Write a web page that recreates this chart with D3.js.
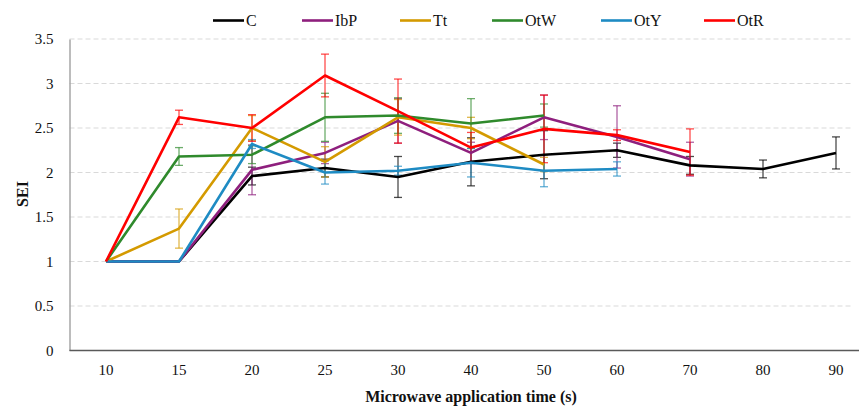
<!DOCTYPE html>
<html><head><meta charset="utf-8">
<script src="https://cdn.jsdelivr.net/npm/d3@7"></script>
<style>body{margin:0;background:#fff}svg{display:block}svg text{font-family:"Liberation Serif","Times New Roman","DejaVu Serif",serif}</style>
</head><body>
<svg id="c" width="859" height="407"></svg>
<script>
const categories = ["10","15","20","25","30","40","50","60","70","80","90"];
const yTicks = [0,0.5,1,1.5,2,2.5,3,3.5];
const seriesNames = ["C","IbP","Tt","OtW","OtY","OtR"];
const colors = ["#000000","#8e1f7d","#d49a00","#2f8a2c","#1e8bc3","#ff0000"];
const C_vals   = [1,1,1.96,2.05,1.95,2.12,2.20,2.25,2.08,2.04,2.22];
const C_err    = [0,0,0.10,0.10,0.23,0.27,0.27,0.08,0.10,0.10,0.18];
const IbP_vals = [1,1,2.03,2.22,2.58,2.22,2.62,2.40,2.15,null,null];
const IbP_err  = [0,0,0.28,0.12,0.25,0.12,0.25,0.35,0.19,null,null];
const Tt_vals  = [1,1.37,2.50,2.12,2.62,2.50,2.09];
const Tt_err   = [0,0.22,0.14,0.17,0.2,0.12,0.08];
const OtW_vals = [1,2.18,2.20,2.62,2.64,2.55,2.64];
const OtW_err  = [0,0.10,0.10,0.27,0.20,0.28,0.13];
const OtY_vals = [1,1,2.32,2.00,2.02,2.11,2.02,2.04];
const OtY_err  = [0,0,0.05,0.13,0.05,0.16,0.18,0.08];
const OtR_vals = [1,2.62,2.50,3.09,2.69,2.28,2.49,2.42,2.23];
const OtR_err  = [0,0.08,0.15,0.24,0.36,0.17,0.38,0.06,0.26];

const allVals = [C_vals,IbP_vals,Tt_vals,OtW_vals,OtY_vals,OtR_vals];
const allErr  = [C_err,IbP_err,Tt_err,OtW_err,OtY_err,OtR_err];

const svg = d3.select("#c");
const L = 69.5, T = 39, B = 350.5;
const x = d3.scaleBand().domain(categories).range([L, L + 73*11]);
const y = d3.scaleLinear().domain([0,3.5]).range([B, T]);

// gridlines
svg.append("g").selectAll("line").data(yTicks.filter(d=>d>0)).join("line")
  .attr("x1", L).attr("x2", 852).attr("y1", d=>y(d)).attr("y2", d=>y(d))
  .attr("stroke","#d9d9d9").attr("stroke-width",1).attr("stroke-dasharray","5,3");

// y axis
const ya = svg.append("g").attr("transform",`translate(${L},0)`)
  .call(d3.axisLeft(y).tickValues(yTicks).tickSize(0).tickPadding(16).tickFormat(d=>String(d)));
ya.attr("font-family",null);
ya.select(".domain").attr("stroke","#a6a6a6").attr("stroke-width",1.5);
ya.selectAll("text").attr("font-size",15).attr("fill","#111");

// x axis
const xa = svg.append("g").attr("transform",`translate(0,${B})`)
  .call(d3.axisBottom(x).tickSize(0).tickPadding(14));
xa.attr("font-family",null);
xa.select(".domain").remove();
svg.append("line").attr("x1",L).attr("x2",859).attr("y1",B).attr("y2",B)
  .attr("stroke","#595959").attr("stroke-width",1.5);
xa.selectAll("text").attr("font-size",15).attr("fill","#111");

const cx = c => x(c) + x.bandwidth()/2;

// error bars
allVals.forEach((vals,i)=>{
  const pts = vals.map((v,j)=>({c:categories[j],v,e:allErr[i][j]})).filter(p=>p.v!=null && p.e>0);
  const g = svg.append("g").attr("stroke",colors[i]).attr("stroke-opacity",0.7).attr("stroke-width",1.3);
  g.selectAll(".v").data(pts).join("line")
    .attr("x1",p=>cx(p.c)).attr("x2",p=>cx(p.c)).attr("y1",p=>y(p.v+p.e)).attr("y2",p=>y(p.v-p.e));
  g.selectAll(".t").data(pts).join("line")
    .attr("x1",p=>cx(p.c)-4).attr("x2",p=>cx(p.c)+4).attr("y1",p=>y(p.v+p.e)).attr("y2",p=>y(p.v+p.e));
  g.selectAll(".b").data(pts).join("line")
    .attr("x1",p=>cx(p.c)-4).attr("x2",p=>cx(p.c)+4).attr("y1",p=>y(p.v-p.e)).attr("y2",p=>y(p.v-p.e));
});

// lines
const line = d3.line().defined(p=>p.v!=null).x(p=>cx(p.c)).y(p=>y(p.v));
allVals.forEach((vals,i)=>{
  const pts = vals.map((v,j)=>({c:categories[j],v}));
  svg.append("path").datum(pts).attr("d",line).attr("fill","none")
    .attr("stroke",colors[i]).attr("stroke-width",2.6).attr("stroke-linejoin","round");
});

// legend
const legX = [213,302,400,492,601,704];
const lg = svg.append("g");
seriesNames.forEach((n,i)=>{
  lg.append("line").attr("x1",legX[i]).attr("x2",legX[i]+31).attr("y1",20.5).attr("y2",20.5)
    .attr("stroke",colors[i]).attr("stroke-width",2.6);
  lg.append("text").attr("x",legX[i]+33).attr("y",26).text(n)
    .attr("font-size",16).attr("fill","#111");
});

// axis titles
svg.append("text").attr("x",471).attr("y",402).attr("text-anchor","middle")
  .attr("font-size",16).attr("font-weight","bold").attr("fill","#111")
  .text("Microwave application time (s)");
svg.append("text").attr("transform","translate(28,194) rotate(-90)").attr("text-anchor","middle")
  .attr("font-size",16).attr("font-weight","bold").attr("fill","#111")
  .text("SEI");
</script>
</body></html>
